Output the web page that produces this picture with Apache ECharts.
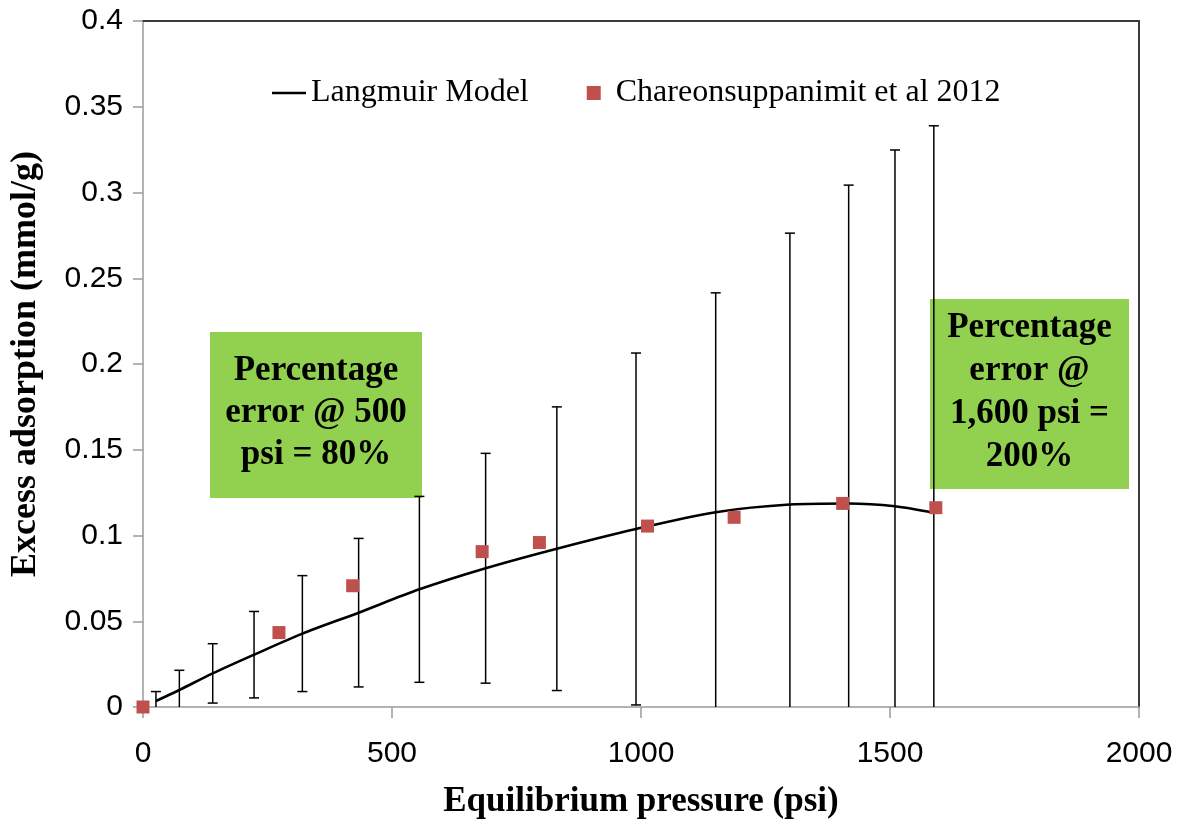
<!DOCTYPE html>
<html>
<head>
<meta charset="utf-8">
<script src="https://cdn.jsdelivr.net/npm/echarts@6/dist/echarts.min.js"></script>
<style>
  html, body { margin: 0; padding: 0; background: #ffffff; }
  #chart { width: 1181px; height: 824px; }
</style>
</head>
<body>
<div id="chart"></div>
<script>
// Langmuir model curve: pressure (psi), excess adsorption (mmol/g), error half-width (mmol/g)
const modelPressure   = [26, 73, 140, 223, 320, 433, 555, 688, 831, 990, 1150, 1299, 1417, 1510, 1588];
const modelAdsorption = [0.0035, 0.0099, 0.0196, 0.0305, 0.0428, 0.0550, 0.0686, 0.0809, 0.0923, 0.1038, 0.1136, 0.1181, 0.1187, 0.1171, 0.1133];
const modelError      = [0.0055, 0.0115, 0.0173, 0.0252, 0.0338, 0.0433, 0.0542, 0.0670, 0.0827, 0.1026, 0.1279, 0.1582, 0.1856, 0.2077, 0.2256];

// Measured data, Chareonsuppanimit et al 2012
const expPressure   = [0, 273, 421, 681, 796, 1013, 1187, 1405, 1592];
const expAdsorption = [0, 0.0434, 0.0707, 0.0906, 0.0959, 0.1055, 0.1106, 0.1187, 0.1162];

// Axis ranges and tick steps
const xRange = [0, 2000], xStep = 500;
const yRange = [0, 0.4],  yStep = 0.05;

// Text of the two call-out boxes
const noteLow  = ['Percentage', 'error @ 500', 'psi = 80%'];
const noteHigh = ['Percentage', 'error @', '1,600 psi =', '200%'];

const seriesNames = ['Langmuir Model', 'Chareonsuppanimit et al 2012'];

const modelLine = modelPressure.map((p, i) => [p, modelAdsorption[i]]);
const modelBars = modelPressure.map((p, i) => [p, modelAdsorption[i] - modelError[i], modelAdsorption[i] + modelError[i]]);
const expPoints = expPressure.map((p, i) => [p, expAdsorption[i]]);

const chart = echarts.init(document.getElementById('chart'), null, { renderer: 'canvas' });

const axisGray = '#9a9a9a';
const frameDark = '#3a3a3a';
const serif = 'Liberation Serif';

function noteBox(x, y, w, h, lines, lh) {
  return {
    type: 'group',
    z: 100,
    children: [
      { type: 'rect', shape: { x: x, y: y, width: w, height: h }, style: { fill: '#92D050' } },
      {
        type: 'text',
        x: x + w / 2,
        y: y + h / 2 - 2,
        style: {
          text: lines.join('\n'),
          font: 'bold 35px "' + serif + '"',
          fill: '#000',
          align: 'center',
          verticalAlign: 'middle',
          lineHeight: lh
        }
      }
    ]
  };
}

const option = {
  backgroundColor: '#ffffff',
  animation: false,
  grid: { left: 143, right: 42, top: 21, bottom: 116, containLabel: false },
  legend: {
    left: 267,
    top: 72,
    itemWidth: 34,
    itemHeight: 14,
    itemGap: 58,
    textStyle: { fontFamily: serif, fontSize: 32, color: '#000' },
    data: [
      { name: seriesNames[0], icon: 'path://M0,0H34V2.6H0Z' },
      { name: seriesNames[1], icon: 'path://M0,0H10V10H0Z' }
    ]
  },
  xAxis: [
    {
      type: 'value',
      min: xRange[0], max: xRange[1], interval: xStep,
      name: 'Equilibrium pressure (psi)',
      nameLocation: 'middle',
      nameGap: 77,
      nameTextStyle: { fontFamily: serif, fontWeight: 'bold', fontSize: 35, color: '#000' },
      axisLine: { show: true, onZero: false, lineStyle: { color: axisGray, width: 1.5 } },
      axisTick: { show: true, inside: false, length: 11, lineStyle: { color: axisGray, width: 1.5 } },
      axisLabel: { margin: 32, fontFamily: 'Liberation Sans', fontSize: 30, color: '#000',
                   formatter: v => String(v) },
      splitLine: { show: false }
    },
    {
      type: 'value', position: 'top',
      min: xRange[0], max: xRange[1], interval: xStep,
      axisLine: { show: true, onZero: false, lineStyle: { color: frameDark, width: 2 } },
      axisTick: { show: false }, axisLabel: { show: false }, splitLine: { show: false }
    }
  ],
  yAxis: [
    {
      type: 'value',
      min: yRange[0], max: yRange[1], interval: yStep,
      name: 'Excess adsorption (mmol/g)',
      nameLocation: 'middle',
      nameGap: 99,
      nameTextStyle: { fontFamily: serif, fontWeight: 'bold', fontSize: 36, color: '#000' },
      axisLine: { show: true, onZero: false, lineStyle: { color: axisGray, width: 1.5 } },
      axisTick: { show: true, inside: false, length: 10, lineStyle: { color: axisGray, width: 1.5 } },
      axisLabel: { margin: 20, fontFamily: 'Liberation Sans', fontSize: 30, color: '#000' },
      splitLine: { show: false }
    },
    {
      type: 'value', position: 'right',
      min: yRange[0], max: yRange[1], interval: yStep,
      axisLine: { show: true, onZero: false, lineStyle: { color: frameDark, width: 2 } },
      axisTick: { show: false }, axisLabel: { show: false }, splitLine: { show: false }
    }
  ],
  series: [
    {
      // error bars of the model, clipped to the value range of the plot
      type: 'custom',
      name: 'model error',
      xAxisIndex: 0, yAxisIndex: 0,
      z: 2,
      silent: true,
      encode: { x: 0, y: [1, 2] },
      data: modelBars,
      renderItem: function (params, api) {
        const x = api.value(0), lo = api.value(1), hi = api.value(2);
        const top = api.coord([x, Math.min(hi, yRange[1])]);
        const bot = api.coord([x, Math.max(lo, yRange[0])]);
        const st = { stroke: '#000', lineWidth: 1.5 };
        const kids = [{ type: 'line', shape: { x1: top[0], y1: top[1], x2: bot[0], y2: bot[1] }, style: st }];
        if (hi <= yRange[1]) kids.push({ type: 'line', shape: { x1: top[0] - 5, y1: top[1], x2: top[0] + 5, y2: top[1] }, style: st });
        if (lo >= yRange[0]) kids.push({ type: 'line', shape: { x1: bot[0] - 5, y1: bot[1], x2: bot[0] + 5, y2: bot[1] }, style: st });
        return { type: 'group', children: kids };
      }
    },
    {
      type: 'line',
      name: seriesNames[0],
      xAxisIndex: 0, yAxisIndex: 0,
      z: 3,
      data: modelLine,
      smooth: 0.3,
      symbol: 'none',
      lineStyle: { color: '#000', width: 2.6 },
      itemStyle: { color: '#000' }
    },
    {
      type: 'scatter',
      name: seriesNames[1],
      xAxisIndex: 0, yAxisIndex: 0,
      z: 4,
      clip: false,
      data: expPoints,
      symbol: 'rect',
      symbolSize: 13,
      itemStyle: { color: '#C0504D', opacity: 1 }
    }
  ],
  graphic: [
    noteBox(210, 332, 212, 166, noteLow, 42),
    noteBox(930, 299, 199, 190, noteHigh, 43)
  ]
};

chart.setOption(option);
</script>
</body>
</html>
